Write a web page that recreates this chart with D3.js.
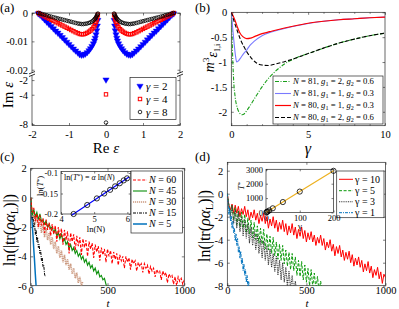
<!DOCTYPE html>
<html>
<head>
<meta charset="utf-8">
<script src="https://cdn.jsdelivr.net/npm/d3@7"></script>
<style>
body { margin: 0; background: #fff; }
</style>
</head>
<body>
<div id="fig"></div>
<script>
// ---------------- data ----------------

// (a) spectrum, left half is mirrored from these |Re| values
const aRe   = [1.83,1.78,1.72,1.66,1.60,1.54,1.48,1.42,1.36,1.30,1.24,1.18,1.12,1.06,1.00,0.94,0.88,0.82,0.76,0.71,0.66,0.61,0.56,0.51,0.46,0.42,0.38,0.34,0.31,0.29,0.27,0.25,0.235,0.22];
const aImG2 = [-0.0002,-0.0007,-0.0015,-0.0023,-0.0031,-0.0039,-0.0047,-0.0055,-0.0063,-0.0070,-0.0078,-0.0086,-0.0094,-0.0102,-0.0110,-0.0118,-0.0126,-0.0133,-0.0140,-0.0146,-0.0148,-0.0147,-0.0144,-0.0139,-0.0132,-0.0125,-0.0117,-0.0108,-0.0098,-0.0088,-0.0076,-0.0062,-0.0045,-0.0025];
const aImG4 = [0,-0.0004,-0.0008,-0.0012,-0.0016,-0.0020,-0.0024,-0.0028,-0.0032,-0.0036,-0.0040,-0.0044,-0.0048,-0.0052,-0.0056,-0.0060,-0.0064,-0.0068,-0.0071,-0.0074,-0.0075,-0.0075,-0.0073,-0.0070,-0.0066,-0.0062,-0.0057,-0.0051,-0.0044,-0.0038,-0.0031,-0.0023,-0.0014,-0.0006];
const aImG8 = [0,-0.0002,-0.0004,-0.0006,-0.0008,-0.0011,-0.0013,-0.0015,-0.0017,-0.0019,-0.0021,-0.0023,-0.0025,-0.0027,-0.0029,-0.0031,-0.0033,-0.0035,-0.0037,-0.0038,-0.0039,-0.0039,-0.0038,-0.0037,-0.0035,-0.0033,-0.0030,-0.0026,-0.0022,-0.0019,-0.0015,-0.0010,-0.0006,-0.0002];
const aGammas = [2, 4, 8];
const aIsolated = [-1.95, -3.95, -7.8]; // eigenvalue at Re = 0
const aXTicks = [-2, -1, 0, 1, 2];
const aYTicksTop = [0, -0.01, -0.02];
const aYTicksBot = [-2, -4, -8];

// (b) m^3 vs gamma
const bGamGreen = [0,0.05,0.1,0.15,0.25,0.4,0.55,0.7,0.85,1.0,1.3,1.6,2.0,2.5,3.0,3.5,4,4.5,5,6,7,8,9,10];
const bGreen    = [0,-0.5,-1.0,-1.35,-1.7,-1.93,-2.03,-2.06,-2.04,-1.98,-1.84,-1.69,-1.5,-1.3,-1.15,-1.03,-0.95,-0.88,-0.83,-0.72,-0.62,-0.54,-0.47,-0.42];
const bGamBlue  = [0,0.1,0.2,0.3,0.35,0.45,0.6,0.8,1.0,1.2,1.5,2,2.5,3,4,5,6,7,8,9,10];
const bBlue     = [0,-0.35,-0.68,-0.93,-1.0,-0.98,-0.92,-0.83,-0.76,-0.67,-0.58,-0.47,-0.405,-0.36,-0.285,-0.225,-0.18,-0.15,-0.13,-0.11,-0.095];
const bGamRed   = [0,0.1,0.25,0.4,0.57,0.75,1.0,1.25,1.5,2,2.5,3,4,5,6,7,8,9,10];
const bRed      = [0,-0.06,-0.17,-0.30,-0.42,-0.49,-0.53,-0.52,-0.49,-0.43,-0.39,-0.35,-0.28,-0.22,-0.18,-0.15,-0.13,-0.11,-0.095];
const bGamBlack = [0,0.2,0.4,0.6,0.8,1.0,1.3,1.6,2.0,2.4,3,3.5,4,5,6,7,8,9,10];
const bBlack    = [0,-0.2,-0.38,-0.55,-0.68,-0.79,-0.92,-1.01,-1.06,-1.07,-1.03,-0.99,-0.94,-0.83,-0.72,-0.62,-0.54,-0.47,-0.42];
const bXTicks = [0, 5, 10];
const bYTicks = [0, -0.5, -1, -1.5, -2];

// (c) ln|tr(rho alpha_L)| vs t for several N (sampled every cDt)
const cDt = 10;
const cN60 = [0,-1.0,-0.7,-1.6,-1.1,-2.0,-1.2,-1.9,-1.4,-2.4,-1.5,-2.2,-1.7,-2.6,-1.8,-2.5,-1.9,-3.0,-2.0,-2.7,-2.1,-3.2,-2.2,-2.9,-2.3,-3.8,-2.4,-3.0,-2.5,-3.6,-2.6,-3.3,-2.7,-3.9,-2.8,-3.4,-2.9,-4.0,-3.0,-3.5,-3.1,-4.1,-3.2,-3.7,-3.3,-4.3,-3.4,-3.9,-3.5,-4.4,-3.5,-4.0,-3.6,-4.5,-3.7,-4.2,-3.8,-4.6,-3.9,-4.3,-4.0,-4.8,-4.0,-4.4,-4.1,-4.9,-4.2,-4.5,-4.3,-5.0,-4.4,-4.7,-4.5,-5.1,-4.5,-4.8,-4.6,-5.2,-4.7,-5.0,-4.8,-5.4,-4.9,-5.1,-5.0,-5.6,-5.0,-5.3,-5.1,-5.8,-5.2,-5.4,-5.3,-5.9,-5.4,-6.0,-5.4,-5.7,-5.5,-5.9,-5.6];
const cN45 = [0,-1.2,-0.8,-1.3,-1.0,-1.5,-1.1,-1.6,-1.5,-1.8,-1.6,-2.0,-1.8,-2.1,-2.0,-2.4,-2.1,-2.6,-2.4,-2.8,-2.5,-3.0,-2.8,-3.2,-3.0,-3.5,-3.2,-3.6,-3.4,-3.8,-3.6,-4.0,-3.8,-4.2,-4.0,-4.4,-4.2,-4.6,-4.4,-4.8,-4.6,-5.0,-4.8,-5.2,-5.0,-5.4,-5.3,-5.6,-5.5,-5.9,-6.1];
const cN30 = [0,-1.3,-0.9,-1.8,-1.2,-2.1,-1.5,-2.4,-1.8,-2.7,-2.1,-2.9,-2.4,-3.2,-2.7,-3.5,-3.0,-3.8,-3.3,-4.1,-3.6,-4.4,-3.9,-4.6,-4.2,-4.9,-4.5,-5.2,-4.8,-5.5,-5.1,-5.8,-5.4,-6.0,-5.7];
const cDtFast = 5;
const cN15 = [0,-1.0,-1.5,-1.2,-2.0,-1.7,-2.5,-2.2,-3.0,-2.7,-3.4,-3.2,-3.8,-3.6,-4.3,-4.1,-4.7,-4.6,-5.2,-5.4];
const cN5  = [0,-0.9,-1.8,-2.6,-3.5,-4.3,-5.2,-6.0];
const cXTicks = [0, 500, 1000];
const cYTicks = [2, 0, -2, -4, -6];
// (c) inset: ln T* vs ln N
const cInLnN  = [4.38,4.79,5.08,5.30,5.48,5.63,5.77,5.89,5.99];
const cInLnT  = [-0.200,-0.178,-0.162,-0.150,-0.141,-0.1325,-0.125,-0.118,-0.113];
const cFitLnN = [4.32, 6.05];
const cFitLnT = [-0.203, -0.110];

// (d) ln|tr(rho alpha_L)| vs t for several gamma
const dDt = 10;
const dG10 = [0,-1.0,-1.4,-0.9,-1.7,-1.0,-1.7,-1.1,-2.0,-1.3,-1.8,-1.1,-2.0,-1.4,-2.3,-1.6,-2.1,-1.4,-2.3,-1.7,-2.6,-1.9,-2.4,-1.7,-2.6,-2.0,-3.0,-2.2,-2.8,-2.0,-3.0,-2.3,-3.3,-2.5,-3.1,-2.3,-3.3,-2.6,-3.6,-2.8,-3.4,-2.6,-3.6,-2.9,-3.9,-3.1,-3.7,-2.9,-3.9,-3.2,-4.2,-3.4,-4.0,-3.3,-4.2,-3.6,-4.5,-3.8,-4.3,-3.6,-4.5,-3.9,-4.9,-4.2,-4.7,-4.0,-5.0,-4.4,-5.4,-4.6,-5.2,-4.5,-5.5,-4.9,-5.8,-5.1,-5.7,-5.0,-6.0,-5.3,-6.3,-5.6,-6.2,-5.5,-6.4,-5.8,-6.8,-6.1,-6.7,-5.9,-6.9,-6.3,-7.3,-6.6,-7.1,-6.4,-7.4,-6.8,-7.8,-7.0,-7.3];
const dG5  = [0,-1.0,-1.8,-1.0,-2.3,-1.2,-2.7,-1.5,-2.9,-1.6,-3.0,-1.8,-3.4,-2.1,-3.5,-2.3,-3.8,-2.5,-4.0,-2.8,-4.3,-3.0,-4.4,-3.1,-4.8,-3.5,-4.9,-3.7,-5.2,-3.8,-5.4,-4.2,-5.7,-4.4,-5.8,-4.5,-6.1,-4.9,-6.3,-5.1,-6.6,-5.2,-6.7,-5.5,-7.1,-5.8,-7.2,-5.9,-7.5,-6.2,-7.7,-6.5,-8.0,-6.6,-8.1,-6.9,-8.3,-7.2,-8.5,-7.6,-8.4];
const dG3  = [0,-1.1,-2.0,-1.0,-2.6,-1.4,-3.0,-1.6,-3.3,-2.0,-3.7,-2.2,-3.9,-2.6,-4.3,-2.9,-4.5,-3.3,-4.9,-3.5,-5.2,-3.9,-5.6,-4.1,-5.8,-4.5,-6.2,-4.8,-6.4,-5.2,-6.8,-5.4,-7.1,-5.8,-7.5,-6.0,-7.7,-6.4,-8.1,-6.7,-8.3,-7.1,-8.5,-7.6,-8.6];
const dDtFast = 5;
const dG1  = [0,-0.9,-1.8,-1.2,-2.4,-1.9,-3.0,-2.4,-3.4,-3.0,-4.1,-3.5,-4.5,-3.9,-5.1,-4.6,-5.6,-5.0,-6.1,-5.6,-6.7,-6.1,-7.1,-6.6,-7.7,-7.1,-8.1,-7.6,-8.3];
const dXTicks = [0, 500, 1000];
const dYTicks = [2, 0, -2, -4, -6, -8];
// (d) inset: T* vs gamma
const dInGamma = [1, 3, 5, 10, 20, 50, 100, 200];
const dInT     = [15, 43, 72, 146, 292, 726, 1452, 2895];

// ---------------- helpers ----------------
const FONT = "'Liberation Serif', 'DejaVu Serif', serif";
const INK = "#262626";
const fmt = d => String(d);

const svg = d3.select("#fig").append("svg")
    .attr("width", 399)
    .attr("height", 309)
    .style("font-family", FONT);

// one side of a box axis, ticks pointing inward
function side(g, axis, tr, labels, fs) {
    const a = g.append("g").attr("transform", tr).call(axis);
    a.attr("font-family", null).attr("font-size", null);
    a.select(".domain").remove();
    a.selectAll(".tick line").attr("stroke", INK).attr("stroke-width", 0.6);
    if (labels) {
        a.selectAll(".tick text").attr("fill", "#000").style("font-size", fs + "px");
    } else {
        a.selectAll(".tick text").remove();
    }
}

function xTicks(g, x, vals, yb, yt, fs, pad, len) {
    len = len || 2.5;
    side(g, d3.axisBottom(x).tickValues(vals).tickSize(-len).tickPadding(pad).tickFormat(fmt), `translate(0,${yb})`, fs > 0, fs);
    side(g, d3.axisTop(x).tickValues(vals).tickSize(-len), `translate(0,${yt})`, false, fs);
}

function yTicks(g, y, vals, xl, xr, fs, pad, len) {
    len = len || 2.5;
    side(g, d3.axisLeft(y).tickValues(vals).tickSize(-len).tickPadding(pad).tickFormat(fmt), `translate(${xl},0)`, fs > 0, fs);
    side(g, d3.axisRight(y).tickValues(vals).tickSize(-len), `translate(${xr},0)`, false, fs);
}

function border(g, x0, y0, x1, y1) {
    g.append("rect")
        .attr("x", x0).attr("y", y0)
        .attr("width", x1 - x0).attr("height", y1 - y0)
        .attr("fill", "none")
        .attr("stroke", INK)
        .attr("stroke-width", 0.7);
}

function clip(id, x0, y0, x1, y1) {
    svg.append("clipPath").attr("id", id)
        .append("rect").attr("x", x0).attr("y", y0).attr("width", x1 - x0).attr("height", y1 - y0);
    return "url(#" + id + ")";
}

function label(txt, x, y, fs, rot) {
    const t = svg.append("text")
        .attr("text-anchor", "middle")
        .style("font-size", fs + "px");
    if (rot) t.attr("transform", `translate(${x},${y}) rotate(-90)`);
    else t.attr("x", x).attr("y", y);
    txt.forEach(p => {
        const s = t.append("tspan").text(p.t);
        if (p.i) s.style("font-style", "italic");
        if (p.fs) s.style("font-size", p.fs + "px");
        if (p.dy) s.attr("dy", p.dy);
    });
    return t;
}

// legend box with line samples
function legend(x0, y0, x1, y1, items, rowY, fs, sx0, sx1, tx) {
    svg.append("rect")
        .attr("x", x0).attr("y", y0).attr("width", x1 - x0).attr("height", y1 - y0)
        .attr("fill", "#fff").attr("stroke", INK).attr("stroke-width", 0.7);
    items.forEach((it, i) => {
        const y = rowY[i];
        if (it.marker) {
            it.marker(svg, (sx0 + sx1) / 2, y);
        } else {
            svg.append("line")
                .attr("x1", sx0).attr("x2", sx1).attr("y1", y).attr("y2", y)
                .attr("stroke", it.color).attr("stroke-width", it.width || 1)
                .attr("stroke-dasharray", it.dash || null);
        }
        const t = svg.append("text").attr("x", tx).attr("y", y + fs * 0.33).style("font-size", fs + "px");
        it.text.forEach(p => {
            const s = t.append("tspan").text(p.t);
            if (p.i) s.style("font-style", "italic");
            if (p.sub) s.style("font-size", (fs * 0.7) + "px").attr("dy", 2);
            if (p.back) s.attr("dy", -2);
        });
    });
}

// markers
const triDown = (g, x, y, c) => g.append("path")
    .attr("d", d3.symbol(d3.symbolTriangle, 17)())
    .attr("transform", `translate(${x},${y}) rotate(180)`)
    .attr("fill", c).attr("stroke", c).attr("stroke-width", 0.4);
const square = (g, x, y, c) => g.append("rect")
    .attr("x", x - 1.7).attr("y", y - 1.7).attr("width", 3.4).attr("height", 3.4)
    .attr("fill", "none").attr("stroke", c).attr("stroke-width", 1);
const circle = (g, x, y, c, r) => g.append("circle")
    .attr("cx", x).attr("cy", y).attr("r", r || 1.8)
    .attr("fill", "none").attr("stroke", c).attr("stroke-width", 0.8);

// panel labels
[["(a)", 0, 12], ["(b)", 195, 12], ["(c)", 0, 161], ["(d)", 195, 161]].forEach(d => {
    svg.append("text").attr("x", d[1]).attr("y", d[2]).style("font-size", "13px").text(d[0]);
});

// ---------------- panel (a) ----------------
const ax = d3.scaleLinear().domain([-2, 2]).range([32, 180]);
const ayTop = d3.scaleLinear().domain([-0.0215, 0]).range([74, 13]);
const ayBot = d3.scaleLinear().domain([-8.2, -1.17]).range([125.5, 74]);
const ga = svg.append("g");

border(ga, 32, 13, 180, 125.5);
xTicks(ga, ax, aXTicks, 125.5, 13, 10.5, 5);
yTicks(ga, ayTop, aYTicksTop, 32, 180, 10.5, 4);
yTicks(ga, ayBot, aYTicksBot, 32, 180, 10.5, 4);

// axis break marks
[32, 180].forEach(xb => {
    ga.append("rect").attr("x", xb - 3).attr("y", 72.4).attr("width", 6).attr("height", 3.2).attr("fill", "#fff");
    [-1.3, 1.3].forEach(o => {
        ga.append("line")
            .attr("x1", xb - 3).attr("x2", xb + 3)
            .attr("y1", 74 + o + 1.2).attr("y2", 74 + o - 1.2)
            .attr("stroke", "#000").attr("stroke-width", 0.8);
    });
});

const aSeries = [
    {im: aImG2, mk: triDown, c: "#0000ff"},
    {im: aImG4, mk: square, c: "#ff0000"},
    {im: aImG8, mk: circle, c: "#000000"}
];
aSeries.forEach((s, k) => {
    aRe.forEach((re, i) => {
        s.mk(ga, ax(-re), ayTop(s.im[i]), s.c);
        s.mk(ga, ax(re), ayTop(s.im[i]), s.c);
    });
    s.mk(ga, ax(0), ayBot(aIsolated[k]), s.c);
});

legend(130, 77.5, 176, 119.5, aSeries.map((s, i) => ({
    marker: (g, x, y) => s.mk(g, x, y, s.c),
    text: [{t: "γ", i: true}, {t: " = " + aGammas[i]}]
})), [86, 99, 112], 11, 137, 143, 146);

label([{t: "Im "}, {t: "ε", i: true}], 13, 95, 15, true);
label([{t: "Re "}, {t: "ε", i: true}], 106, 153, 15);

// ---------------- panel (b) ----------------
const bx = d3.scaleLinear().domain([0, 10]).range([231.3, 385]);
const by = d3.scaleLinear().domain([-2.28, 0]).range([125.7, 12.3]);
const gb = svg.append("g");
border(gb, 231.3, 12.3, 385, 125.7);
xTicks(gb, bx, bXTicks, 125.7, 12.3, 10.5, 5);
xTicks(gb, bx, [1, 2, 3, 4, 6, 7, 8, 9], 125.7, 12.3, 0, 0, 1.5);
yTicks(gb, by, bYTicks, 231.3, 385, 10.5, 4);

const bLine = d3.line().x(d => bx(d[0])).y(d => by(d[1])).curve(d3.curveMonotoneX);
const bSeries = [
    {g: bGamGreen, v: bGreen, c: "#1a9e1a", dash: "4,1.5,1,1.5", w: 1.1,
     text: ["81", "2", "0.6"]},
    {g: bGamBlue, v: bBlue, c: "#7a7aff", dash: null, w: 1.1,
     text: ["81", "1", "0.3"]},
    {g: bGamRed, v: bRed, c: "#ff0000", dash: null, w: 1.2,
     text: ["80", "1", "0.3"]},
    {g: bGamBlack, v: bBlack, c: "#000000", dash: "4,2", w: 1.1,
     text: ["80", "2", "0.6"]}
];
const bClip = clip("clipb", 231.3, 12.3, 385, 125.7);
bSeries.forEach(s => {
    gb.append("path")
        .datum(s.g.map((gv, i) => [gv, s.v[i]]))
        .attr("d", bLine)
        .attr("clip-path", bClip)
        .attr("fill", "none")
        .attr("stroke", s.c)
        .attr("stroke-width", s.w)
        .attr("stroke-dasharray", s.dash);
});

legend(273, 76, 383, 124, bSeries.map(s => ({
    color: s.c, dash: s.dash, width: s.w,
    text: [{t: "N", i: true}, {t: " = " + s.text[0] + ", "}, {t: "g", i: true}, {t: "1", sub: true}, {t: " = " + s.text[1] + ", ", back: true},
           {t: "g", i: true}, {t: "2", sub: true}, {t: " = " + s.text[2], back: true}]
})), [81.5, 93.5, 105.5, 117.5], 8.7, 275, 291, 293);

label([{t: "m", i: true}, {t: "3", fs: 9, dy: -5}, {t: "ε", i: true, dy: 8}, {t: "1,i", fs: 8, dy: 3}], 214, 58, 14, true);
label([{t: "γ", i: true}], 308, 154, 16);

// ---------------- panel (c) ----------------
const cx = d3.scaleLinear().domain([0, 1000]).range([30.7, 184.3]);
const cy = d3.scaleLinear().domain([-6, 2]).range([285.7, 168.3]);
const gc = svg.append("g");
border(gc, 30.7, 168.3, 184.3, 285.7);
xTicks(gc, cx, cXTicks, 285.7, 168.3, 10.5, 1.3);
yTicks(gc, cy, cYTicks, 30.7, 184.3, 10.5, 4);

const cClip = clip("clipc", 30.7, 168.3, 184.3, 285.7);
const cLine = d3.line().x(d => cx(d[0])).y(d => cy(d[1]));
const cSeries = [
    {v: cN60, dt: cDt, c: "#ff0000", dash: "3,1.6", w: 1.1, n: "60"},
    {v: cN45, dt: cDt, c: "#0a8f0a", dash: null, w: 1.1, n: "45"},
    {v: cN30, dt: cDt, c: "#cc9a80", dash: "1.2,0.8", w: 1.6, n: "30"},
    {v: cN15, dt: cDtFast, c: "#000000", dash: "3,1,1,1", w: 1, n: "15"},
    {v: cN5, dt: cDtFast, c: "#0072bd", dash: null, w: 1.5, n: "5"}
];
cSeries.slice().reverse().forEach(s => {
    gc.append("path")
        .datum(s.v.map((v, i) => [i * s.dt, v]))
        .attr("d", cLine)
        .attr("clip-path", cClip)
        .attr("fill", "none")
        .attr("stroke", s.c)
        .attr("stroke-width", s.w)
        .attr("stroke-dasharray", s.dash);
});

legend(131, 171, 182.5, 233, cSeries.map(s => ({
    color: s.c, dash: s.dash, width: s.w,
    text: [{t: "N", i: true}, {t: " = " + s.n}]
})), [180, 191, 202, 213, 224], 10, 133, 147, 149);

// inset (c)
const cix = d3.scaleLinear().domain([4, 6.1]).range([61, 130.7]);
const ciy = d3.scaleLinear().domain([-0.2, -0.0963]).range([214, 171.5]);
svg.append("rect").attr("x", 61).attr("y", 171.5).attr("width", 69.7).attr("height", 42.5).attr("fill", "#fff");
const gci = svg.append("g");
border(gci, 61, 171.5, 130.7, 214);
xTicks(gci, cix, [4, 5, 6], 214, 171.5, 8.5, 2, 2);
yTicks(gci, ciy, [-0.1, -0.15, -0.2], 61, 130.7, 8.5, 3, 2);
gci.append("path")
    .datum(cFitLnN.map((v, i) => [v, cFitLnT[i]]))
    .attr("d", d3.line().x(d => cix(d[0])).y(d => ciy(d[1])))
    .attr("stroke", "#0000ff").attr("stroke-width", 1.2).attr("fill", "none");
cInLnN.forEach((v, i) => circle(gci, cix(v), ciy(cInLnT[i]), "#000", 2.6));
gci.append("text").attr("x", 64).attr("y", 180).style("font-size", "8px")
    .call(t => {
        t.append("tspan").text("ln(");
        t.append("tspan").text("T").style("font-style", "italic");
        t.append("tspan").text("*").attr("dy", -2).style("font-size", "6px");
        t.append("tspan").text(") = ").attr("dy", 2);
        t.append("tspan").text("α").style("font-style", "italic");
        t.append("tspan").text(" ln(");
        t.append("tspan").text("N").style("font-style", "italic");
        t.append("tspan").text(")");
    });
label([{t: "ln(N)"}], 96, 232, 8.5);
label([{t: "ln("}, {t: "T", i: true}, {t: "*", fs: 6, dy: -2}, {t: ")", dy: 2}], 43, 186, 8.5, true);

label([{t: "ln(|tr("}, {t: "ρα", i: true}, {t: "L", fs: 10, dy: 3}, {t: ")|)", dy: -3}], 15, 230, 16, true);
label([{t: "t", i: true}], 108, 306.6, 11);

// ---------------- panel (d) ----------------
const dx = d3.scaleLinear().domain([0, 1000]).range([227.3, 385.5]);
const dy = d3.scaleLinear().domain([-8, 2.73]).range([285.7, 162.3]);
const gd = svg.append("g");
border(gd, 227.3, 162.3, 385.5, 285.7);
xTicks(gd, dx, dXTicks, 285.7, 162.3, 10.5, 1.3);
yTicks(gd, dy, dYTicks, 227.3, 385.5, 10.5, 4);

const dClip = clip("clipd", 227.3, 162.3, 385.5, 285.7);
const dLine = d3.line().x(d => dx(d[0])).y(d => dy(d[1]));
const dSeries = [
    {v: dG10, dt: dDt, c: "#ff0000", dash: null, w: 1, n: "10"},
    {v: dG5, dt: dDt, c: "#0a990a", dash: "3,1.6", w: 1, n: "5"},
    {v: dG3, dt: dDt, c: "#3a3a3a", dash: "1,0.8", w: 1.1, n: "3"},
    {v: dG1, dt: dDtFast, c: "#0072bd", dash: "3,1,1,1", w: 1, n: "1"}
];
dSeries.forEach(s => {
    gd.append("path")
        .datum(s.v.map((v, i) => [i * s.dt, v]))
        .attr("d", dLine)
        .attr("clip-path", dClip)
        .attr("fill", "none")
        .attr("stroke", s.c)
        .attr("stroke-width", s.w)
        .attr("stroke-dasharray", s.dash);
});

legend(336.7, 171, 384, 217.7, dSeries.map(s => ({
    color: s.c, dash: s.dash, width: s.w,
    text: [{t: "γ = " + s.n}]
})), [179.3, 190.7, 201.7, 212.7], 10, 339, 353, 355);

// inset (d)
const dix = d3.scaleLinear().domain([0, 200]).range([266, 333.5]);
const diy = d3.scaleLinear().domain([0, 3000]).range([212.5, 169.3]);
svg.append("rect").attr("x", 266).attr("y", 169.3).attr("width", 67.5).attr("height", 43.2).attr("fill", "#fff");
const gdi = svg.append("g");
border(gdi, 266, 169.3, 333.5, 212.5);
xTicks(gdi, dix, [0, 100, 200], 212.5, 169.3, 8.5, 2, 2);
yTicks(gdi, diy, [0, 1000, 2000, 3000], 266, 333.5, 8.5, 3, 2);
gdi.append("path")
    .datum(dInGamma.map((v, i) => [v, dInT[i]]))
    .attr("d", d3.line().x(d => dix(d[0])).y(d => diy(d[1])))
    .attr("stroke", "#edb120").attr("stroke-width", 1.2).attr("fill", "none");
dInGamma.forEach((v, i) => circle(gdi, dix(v), diy(dInT[i]), "#000", 2.6));
label([{t: "γ"}], 300, 229, 9);
label([{t: "T", i: true}, {t: "*", fs: 6, dy: -2}], 244, 186, 9, true);

label([{t: "ln(|tr("}, {t: "ρα", i: true}, {t: "L", fs: 10, dy: 3}, {t: ")|)", dy: -3}], 210, 226, 16, true);
label([{t: "t", i: true}], 307, 306.6, 11);
</script>
</body>
</html>
